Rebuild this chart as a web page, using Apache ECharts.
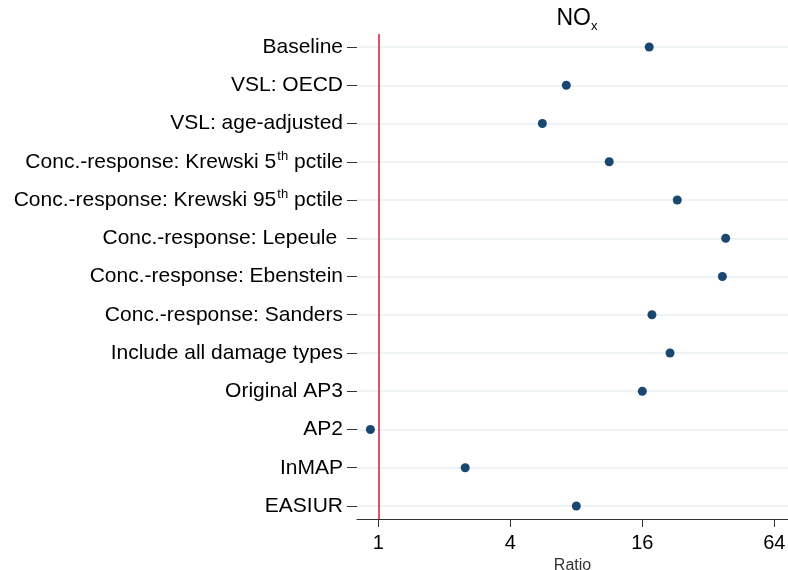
<!DOCTYPE html>
<html>
<head>
<meta charset="utf-8">
<script src="https://cdn.jsdelivr.net/npm/echarts@6/dist/echarts.min.js"></script>
<style>
	html, body {margin:0; padding:0; background:#fff;}
	#main {width:788px; height:570px;}
</style>
</head>
<body>
<div id="main"></div>
<script>
// 各情景下的比值 (对数轴)
var categories = ['Baseline', 'VSL: OECD', 'VSL: age-adjusted',
	'Conc.-response: Krewski 5th pctile', 'Conc.-response: Krewski 95th pctile',
	'Conc.-response: Lepeule ', 'Conc.-response: Ebenstein', 'Conc.-response: Sanders',
	'Include all damage types', 'Original AP3', 'AP2', 'InMAP', 'EASIUR'];
var ratios = [17.2, 7.2, 5.6, 11.3, 23.1, 38.4, 37.1, 17.7, 21.4, 16.0, 0.92, 2.49, 8.0];
var xTicks = [1, 4, 16, 64];
var refValue = 1;

var FONT = '"Liberation Sans", Arial, Helvetica, sans-serif';

var points = [];
var rowIdx = [];
for (var i = 0; i < ratios.length; i++) {
	points.push([ratios[i], i + 1]);
	rowIdx.push(i + 1);
}

// 标签中的 5th / 95th 上标
function rowLabel(v) {
	var name = categories[Math.round(v) - 1];
	if (!name) return '';
	var m = name.match(/^(.*\d)th( .*)$/);
	if (m) {
		return '{a|' + m[1] + '}{sup|th}{a|' + m[2] + '}';
	}
	return '{a|' + name + '}';
}

var option = {
	animation: false,
	textStyle: {fontFamily: FONT},
	title: {
		text: '{n|NO}{s|x}',
		left: 572,
		top: 0,
		textAlign: 'center',
		textStyle: {
			fontWeight: 'normal',
			rich: {
				n: {fontSize: 23, fontFamily: FONT, fontWeight: 'normal', color: '#000', lineHeight: 28},
				s: {fontSize: 13, fontFamily: FONT, fontWeight: 'normal', color: '#000', lineHeight: 28, verticalAlign: 'bottom', padding: [10, 0, 0, 0]}
			}
		}
	},
	grid: {left: 357, right: 0, top: 34, bottom: 51, containLabel: false, outerBoundsMode: 'none'},
	xAxis: {
		type: 'log',
		logBase: 2,
		min: 0.799,
		max: 73.9,
		name: 'Ratio',
		nameLocation: 'middle',
		nameGap: 36,
		nameTextStyle: {fontSize: 16, color: '#333', fontFamily: FONT},
		axisLine: {show: true, lineStyle: {color: '#333', width: 1}},
		axisTick: {show: true, length: 8, customValues: xTicks, lineStyle: {color: '#333'}},
		axisLabel: {
			customValues: xTicks,
			fontSize: 20,
			color: '#000',
			margin: 14,
			fontFamily: FONT,
			formatter: function (v) { return String(Math.round(v)); }
		},
		splitLine: {show: false}
	},
	yAxis: {
		type: 'value',
		inverse: true,
		min: 0.66,
		max: 13.34,
		axisLine: {show: false},
		axisTick: {show: true, length: 10, customValues: rowIdx, lineStyle: {color: '#333'}},
		axisLabel: {
			customValues: rowIdx,
			margin: 14,
			formatter: rowLabel,
			rich: {
				a: {fontSize: 21, color: '#000', fontFamily: FONT, lineHeight: 24},
				sup: {fontSize: 13, color: '#000', fontFamily: FONT, lineHeight: 24, verticalAlign: 'top', padding: [0, 0, 11, 1]}
			}
		},
		splitLine: {show: true, lineStyle: {color: '#e8eff2', width: 1.5}}
	},
	series: [{
		type: 'scatter',
		data: points,
		symbol: 'circle',
		symbolSize: 9,
		itemStyle: {color: '#1a476f', opacity: 1},
		markLine: {
			silent: true,
			symbol: ['none', 'none'],
			label: {show: false},
			lineStyle: {color: '#dc143c', width: 1.5, type: 'solid'},
			data: [{xAxis: refValue}]
		}
	}]
};

var myChart = echarts.init(document.getElementById('main'), null, {renderer: 'canvas'});
myChart.setOption(option);
</script>
</body>
</html>
